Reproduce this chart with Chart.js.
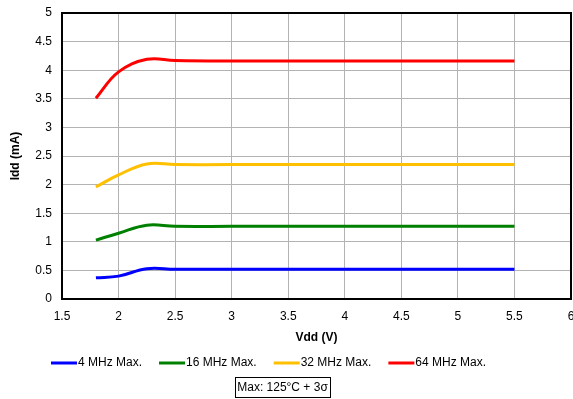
<!DOCTYPE html>
<html>
<head>
<meta charset="utf-8">
<script src="https://cdn.jsdelivr.net/npm/chart.js@4.4.0/dist/chart.umd.min.js"></script>
<style>
  html, body { margin: 0; padding: 0; background: #fff; }
</style>
</head>
<body>
<canvas id="chart" width="573" height="399"></canvas>
<script>
// supply voltage (V) and max current (mA) per clock
const vdd = [1.8, 2.0, 2.25, 2.5, 3.0, 3.5, 4.0, 4.5, 5.0, 5.5]
const idd4 = [0.37, 0.40, 0.53, 0.52, 0.52, 0.52, 0.52, 0.52, 0.52, 0.52]
const idd16 = [1.03, 1.15, 1.29, 1.27, 1.27, 1.27, 1.27, 1.27, 1.27, 1.27]
const idd32 = [1.96, 2.17, 2.36, 2.35, 2.35, 2.35, 2.35, 2.35, 2.35, 2.35]
const idd64 = [3.51, 3.97, 4.19, 4.17, 4.16, 4.16, 4.16, 4.16, 4.16, 4.16]
const seriesNames = ['4 MHz Max.', '16 MHz Max.', '32 MHz Max.', '64 MHz Max.']
const seriesColors = ['#0000ff', '#008000', '#ffc000', '#ff0000']
const noteText = 'Max: 125°C + 3σ'

const FONT = 'Arial, "Liberation Sans", sans-serif'
Chart.defaults.font.family = FONT
Chart.defaults.font.size = 12
Chart.defaults.color = '#000'

const toPoints = ys => ys.map((y, i) => ({ x: vdd[i], y: y }))

const datasets = [idd4, idd16, idd32, idd64].map((ys, i) => ({
  label: seriesNames[i],
  data: toPoints(ys),
  borderColor: seriesColors[i],
  backgroundColor: seriesColors[i],
  borderWidth: 3,
  pointRadius: 0,
  tension: 0.4,
  fill: false
}))

// frame round the plot area + bottom legend + note box
const extras = {
  id: 'extras',
  afterDraw(chart) {
    const ctx = chart.ctx
    const a = chart.chartArea
    ctx.save()
    ctx.strokeStyle = '#000'
    ctx.lineWidth = 2
    ctx.strokeRect(a.left, a.top, a.right - a.left, a.bottom - a.top)

    ctx.font = '12px ' + FONT
    ctx.textBaseline = 'middle'
    ctx.textAlign = 'left'
    let x = 51
    const ly = 363
    chart.data.datasets.forEach(ds => {
      ctx.strokeStyle = ds.borderColor
      ctx.lineWidth = 3
      ctx.beginPath()
      ctx.moveTo(x, ly)
      ctx.lineTo(x + 26, ly)
      ctx.stroke()
      ctx.fillStyle = '#000'
      ctx.fillText(ds.label, x + 27, ly)
      x += 27 + ctx.measureText(ds.label).width + 17
    })

    const w = ctx.measureText(noteText).width + 4
    const cx = 282.5
    ctx.strokeStyle = '#000'
    ctx.lineWidth = 1
    ctx.strokeRect(Math.round(cx - w / 2) + 0.5, 377.5, Math.round(w), 20)
    ctx.textAlign = 'center'
    ctx.fillText(noteText, cx, 388)
    ctx.restore()
  }
}

new Chart(document.getElementById('chart'), {
  type: 'line',
  data: { datasets: datasets },
  options: {
    responsive: false,
    animation: false,
    layout: { padding: { top: 13, right: 2, left: 0, bottom: 50 } },
    plugins: {
      legend: { display: false },
      tooltip: { enabled: false }
    },
    scales: {
      x: {
        type: 'linear',
        min: 1.5,
        max: 6,
        afterFit: s => { s.height = 50; s.paddingRight = 0; s.paddingLeft = 0 },
        ticks: { stepSize: 0.5, padding: 10, maxRotation: 0, callback: v => String(v) },
        grid: { color: '#b3b3b3', drawTicks: false },
        border: { display: false },
        title: { display: true, text: 'Vdd (V)', font: { weight: 'bold', size: 12 }, padding: { top: 4, bottom: 4 } }
      },
      y: {
        min: 0,
        max: 5,
        afterFit: s => { s.width = 62; s.paddingTop = 0; s.paddingBottom = 0 },
        ticks: { stepSize: 0.5, padding: 10, callback: v => String(v) },
        grid: { color: '#b3b3b3', drawTicks: false },
        border: { display: false },
        title: { display: true, text: 'Idd (mA)', font: { weight: 'bold', size: 12 }, padding: { top: 8, bottom: 4 } }
      }
    }
  },
  plugins: [extras]
})
</script>
</body>
</html>
